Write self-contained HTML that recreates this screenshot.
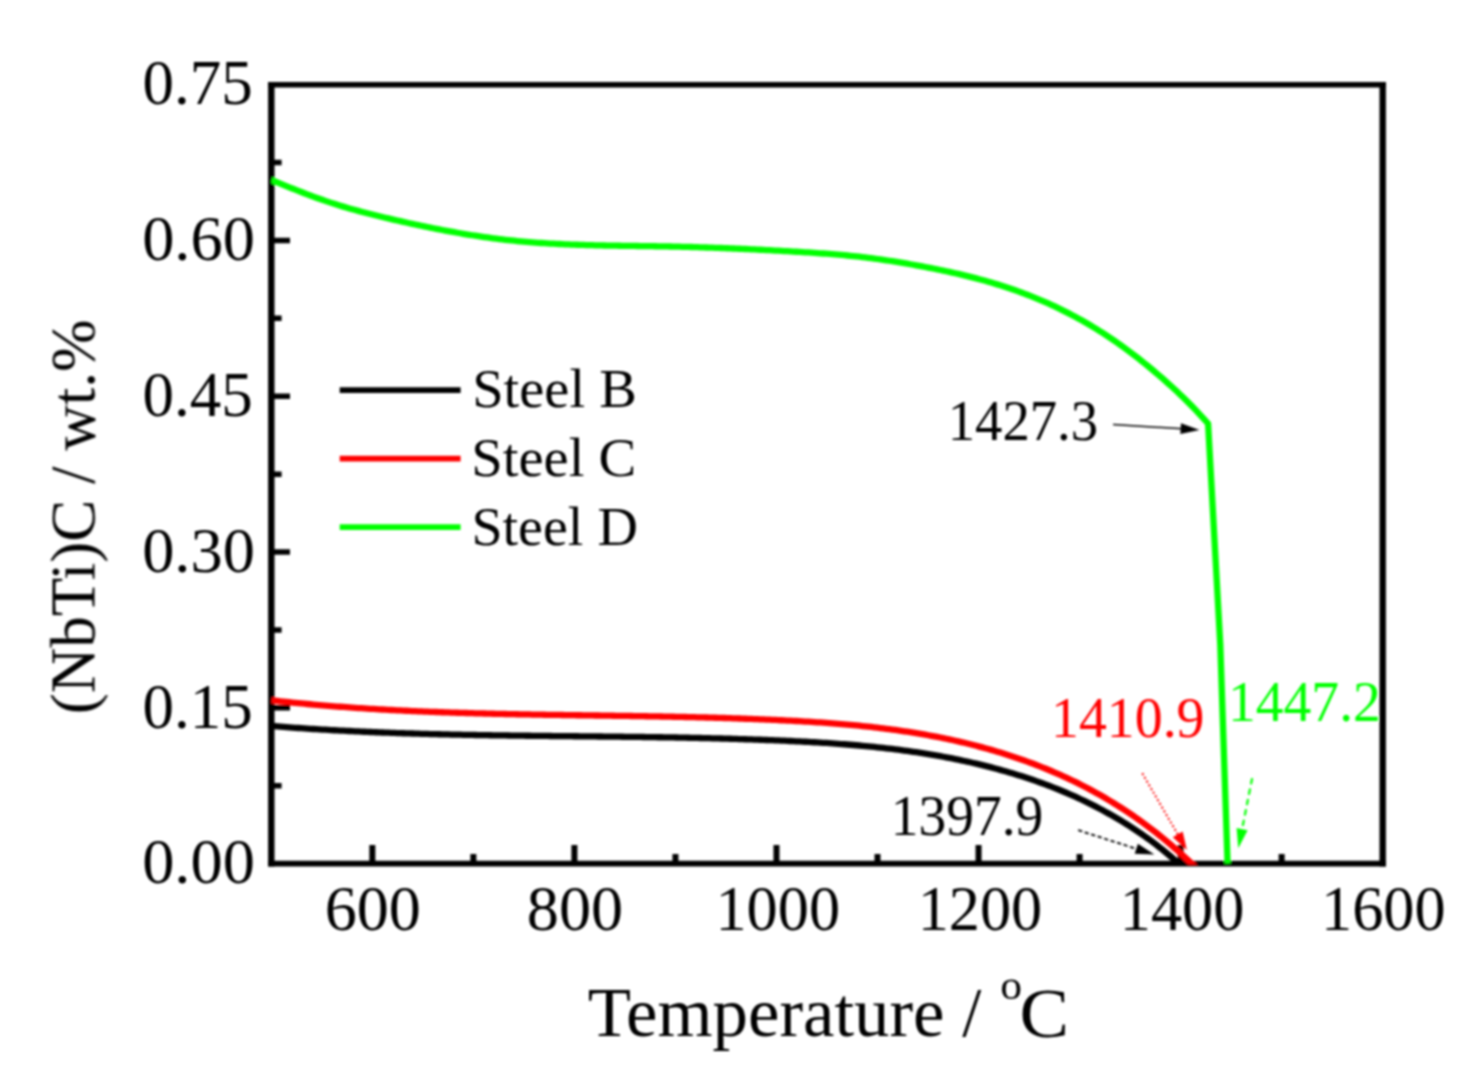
<!DOCTYPE html>
<html><head><meta charset="utf-8"><style>
html,body{margin:0;padding:0;background:#fff;width:1482px;height:1085px;overflow:hidden}
svg{display:block}
</style></head><body>
<svg width="1482" height="1085" viewBox="0 0 1482 1085">
<rect x="0" y="0" width="1482" height="1085" fill="#fff"/>
<defs><clipPath id="pc"><rect x="271.30" y="84.70" width="1111.40" height="780.10"/></clipPath>
<filter id="bl" x="0" y="0" width="1" height="1"><feGaussianBlur stdDeviation="0.80"/></filter>
</defs>
<g filter="url(#bl)">
<path d="M372.34,863.60 V844.90 M574.41,863.60 V844.90 M776.48,863.60 V844.90 M978.55,863.60 V844.90 M1180.63,863.60 V844.90 M473.37,863.60 V853.90 M675.45,863.60 V853.90 M877.52,863.60 V853.90 M1079.59,863.60 V853.90 M1281.66,863.60 V853.90" stroke="#000" stroke-width="6.00" fill="none"/>
<path d="M271.30,707.82 H290.00 M271.30,552.04 H290.00 M271.30,396.26 H290.00 M271.30,240.48 H290.00 M271.30,785.71 H281.60 M271.30,629.93 H281.60 M271.30,474.15 H281.60 M271.30,318.37 H281.60 M271.30,162.59 H281.60" stroke="#000" stroke-width="5.50" fill="none"/>
<path d="M268.10,84.70 H1385.90 M268.10,863.60 H1385.90" stroke="#000" stroke-width="5.60" fill="none"/>
<path d="M271.30,81.90 V866.40 M1382.70,81.90 V866.40" stroke="#000" stroke-width="6.40" fill="none"/>
<g clip-path="url(#pc)" fill="none" stroke-width="6.30" stroke-linejoin="round" stroke-linecap="butt">
<path d="M271.30,725.94 L274.30,726.18 L277.30,726.42 L280.30,726.66 L283.30,726.89 L286.30,727.12 L289.30,727.34 L292.30,727.56 L295.30,727.78 L298.30,727.99 L301.30,728.20 L304.30,728.40 L307.30,728.60 L310.30,728.80 L313.30,728.99 L316.30,729.18 L319.30,729.36 L322.30,729.54 L325.30,729.72 L328.30,729.90 L331.30,730.07 L334.30,730.23 L337.30,730.40 L340.30,730.56 L343.30,730.72 L346.30,730.87 L349.30,731.02 L352.30,731.17 L355.30,731.31 L358.30,731.46 L361.30,731.59 L364.30,731.73 L367.30,731.86 L370.30,731.99 L373.30,732.12 L376.30,732.24 L379.30,732.36 L382.30,732.48 L385.30,732.60 L388.30,732.71 L391.30,732.82 L394.30,732.93 L397.30,733.03 L400.30,733.13 L403.30,733.24 L406.30,733.33 L409.30,733.43 L412.30,733.52 L415.30,733.61 L418.30,733.70 L421.30,733.79 L424.30,733.87 L427.30,733.95 L430.30,734.03 L433.30,734.11 L436.30,734.19 L439.30,734.26 L442.30,734.33 L445.30,734.40 L448.30,734.47 L451.30,734.54 L454.30,734.60 L457.30,734.66 L460.30,734.72 L463.30,734.78 L466.30,734.84 L469.30,734.90 L472.30,734.95 L475.30,735.01 L478.30,735.06 L481.30,735.11 L484.30,735.16 L487.30,735.21 L490.30,735.26 L493.30,735.30 L496.30,735.35 L499.30,735.39 L502.30,735.43 L505.30,735.47 L508.30,735.51 L511.30,735.55 L514.30,735.59 L517.30,735.63 L520.30,735.67 L523.30,735.70 L526.30,735.74 L529.30,735.77 L532.30,735.81 L535.30,735.84 L538.30,735.88 L541.30,735.91 L544.30,735.94 L547.30,735.97 L550.30,736.00 L553.30,736.03 L556.30,736.06 L559.30,736.09 L562.30,736.12 L565.30,736.15 L568.30,736.18 L571.30,736.21 L574.30,736.24 L577.30,736.27 L580.30,736.30 L583.30,736.33 L586.30,736.36 L589.30,736.39 L592.30,736.42 L595.30,736.45 L598.30,736.48 L601.30,736.51 L604.30,736.55 L607.30,736.58 L610.30,736.61 L613.30,736.64 L616.30,736.68 L619.30,736.71 L622.30,736.75 L625.30,736.78 L628.30,736.82 L631.30,736.85 L634.30,736.89 L637.30,736.93 L640.30,736.97 L643.30,737.01 L646.30,737.05 L649.30,737.09 L652.30,737.14 L655.30,737.18 L658.30,737.23 L661.30,737.27 L664.30,737.32 L667.30,737.37 L670.30,737.42 L673.30,737.47 L676.30,737.52 L679.30,737.58 L682.30,737.64 L685.30,737.69 L688.30,737.75 L691.30,737.81 L694.30,737.88 L697.30,737.94 L700.30,738.01 L703.30,738.07 L706.30,738.14 L709.30,738.21 L712.30,738.29 L715.30,738.36 L718.30,738.44 L721.30,738.52 L724.30,738.60 L727.30,738.68 L730.30,738.77 L733.30,738.86 L736.30,738.95 L739.30,739.04 L742.30,739.13 L745.30,739.23 L748.30,739.33 L751.30,739.43 L754.30,739.53 L757.30,739.64 L760.30,739.75 L763.30,739.86 L766.30,739.98 L769.30,740.09 L772.30,740.22 L775.30,740.34 L778.30,740.46 L781.30,740.59 L784.30,740.72 L787.30,740.86 L790.30,741.00 L793.30,741.14 L796.30,741.28 L799.30,741.43 L802.30,741.59 L805.30,741.74 L808.30,741.90 L811.30,742.07 L814.30,742.24 L817.30,742.42 L820.30,742.60 L823.30,742.79 L826.30,742.98 L829.30,743.18 L832.30,743.38 L835.30,743.59 L838.30,743.81 L841.30,744.03 L844.30,744.26 L847.30,744.49 L850.30,744.74 L853.30,744.99 L856.30,745.24 L859.30,745.51 L862.30,745.78 L865.30,746.06 L868.30,746.35 L871.30,746.65 L874.30,746.95 L877.30,747.27 L880.30,747.59 L883.30,747.92 L886.30,748.26 L889.30,748.61 L892.30,748.97 L895.30,749.34 L898.30,749.72 L901.30,750.11 L904.30,750.51 L907.30,750.92 L910.30,751.34 L913.30,751.78 L916.30,752.22 L919.30,752.67 L922.30,753.14 L925.30,753.62 L928.30,754.11 L931.30,754.61 L934.30,755.12 L937.30,755.64 L940.30,756.18 L943.30,756.73 L946.30,757.30 L949.30,757.87 L952.30,758.46 L955.30,759.07 L958.30,759.68 L961.30,760.31 L964.30,760.96 L967.30,761.62 L970.30,762.29 L973.30,762.98 L976.30,763.68 L979.30,764.40 L982.30,765.13 L985.30,765.88 L988.30,766.64 L991.30,767.42 L994.30,768.21 L997.30,769.02 L1000.30,769.85 L1003.30,770.69 L1006.30,771.55 L1009.30,772.43 L1012.30,773.32 L1015.30,774.23 L1018.30,775.16 L1021.30,776.11 L1024.30,777.07 L1027.30,778.05 L1030.30,779.06 L1033.30,780.08 L1036.30,781.12 L1039.30,782.19 L1042.30,783.27 L1045.30,784.38 L1048.30,785.51 L1051.30,786.66 L1054.30,787.83 L1057.30,789.03 L1060.30,790.25 L1063.30,791.50 L1066.30,792.77 L1069.30,794.06 L1072.30,795.38 L1075.30,796.73 L1078.30,798.10 L1081.30,799.50 L1084.30,800.93 L1087.30,802.38 L1090.30,803.87 L1093.30,805.38 L1096.30,806.92 L1099.30,808.49 L1102.30,810.09 L1105.30,811.72 L1108.30,813.38 L1111.30,815.07 L1114.30,816.79 L1117.30,818.54 L1120.30,820.33 L1123.30,822.16 L1126.30,824.02 L1129.30,825.92 L1132.30,827.85 L1135.30,829.83 L1138.30,831.84 L1141.30,833.90 L1144.30,836.00 L1147.30,838.14 L1150.30,840.33 L1153.30,842.57 L1156.30,844.85 L1159.30,847.18 L1162.30,849.55 L1165.30,851.98 L1168.30,854.46 L1171.30,856.99 L1174.30,859.57 L1177.30,862.21 L1178.30,863.11 L1182.78,867.10" stroke="#000"/>
<path d="M271.30,700.29 L274.30,700.63 L277.30,700.96 L280.30,701.29 L283.30,701.61 L286.30,701.93 L289.30,702.24 L292.30,702.54 L295.30,702.84 L298.30,703.14 L301.30,703.43 L304.30,703.71 L307.30,703.99 L310.30,704.26 L313.30,704.53 L316.30,704.80 L319.30,705.06 L322.30,705.31 L325.30,705.57 L328.30,705.81 L331.30,706.05 L334.30,706.29 L337.30,706.52 L340.30,706.75 L343.30,706.97 L346.30,707.19 L349.30,707.41 L352.30,707.62 L355.30,707.83 L358.30,708.03 L361.30,708.23 L364.30,708.42 L367.30,708.61 L370.30,708.80 L373.30,708.98 L376.30,709.16 L379.30,709.34 L382.30,709.51 L385.30,709.68 L388.30,709.84 L391.30,710.00 L394.30,710.16 L397.30,710.31 L400.30,710.46 L403.30,710.61 L406.30,710.75 L409.30,710.90 L412.30,711.03 L415.30,711.17 L418.30,711.30 L421.30,711.43 L424.30,711.55 L427.30,711.67 L430.30,711.79 L433.30,711.91 L436.30,712.02 L439.30,712.14 L442.30,712.24 L445.30,712.35 L448.30,712.45 L451.30,712.56 L454.30,712.65 L457.30,712.75 L460.30,712.84 L463.30,712.93 L466.30,713.02 L469.30,713.11 L472.30,713.20 L475.30,713.28 L478.30,713.36 L481.30,713.44 L484.30,713.52 L487.30,713.59 L490.30,713.66 L493.30,713.73 L496.30,713.80 L499.30,713.87 L502.30,713.94 L505.30,714.00 L508.30,714.07 L511.30,714.13 L514.30,714.19 L517.30,714.25 L520.30,714.31 L523.30,714.36 L526.30,714.42 L529.30,714.47 L532.30,714.53 L535.30,714.58 L538.30,714.63 L541.30,714.68 L544.30,714.73 L547.30,714.78 L550.30,714.82 L553.30,714.87 L556.30,714.92 L559.30,714.96 L562.30,715.01 L565.30,715.05 L568.30,715.10 L571.30,715.14 L574.30,715.18 L577.30,715.23 L580.30,715.27 L583.30,715.31 L586.30,715.35 L589.30,715.39 L592.30,715.44 L595.30,715.48 L598.30,715.52 L601.30,715.56 L604.30,715.61 L607.30,715.65 L610.30,715.69 L613.30,715.73 L616.30,715.78 L619.30,715.82 L622.30,715.87 L625.30,715.91 L628.30,715.96 L631.30,716.00 L634.30,716.05 L637.30,716.10 L640.30,716.14 L643.30,716.19 L646.30,716.24 L649.30,716.29 L652.30,716.35 L655.30,716.40 L658.30,716.45 L661.30,716.51 L664.30,716.56 L667.30,716.62 L670.30,716.68 L673.30,716.74 L676.30,716.80 L679.30,716.87 L682.30,716.93 L685.30,717.00 L688.30,717.06 L691.30,717.13 L694.30,717.21 L697.30,717.28 L700.30,717.35 L703.30,717.43 L706.30,717.51 L709.30,717.59 L712.30,717.67 L715.30,717.76 L718.30,717.84 L721.30,717.93 L724.30,718.02 L727.30,718.12 L730.30,718.21 L733.30,718.31 L736.30,718.41 L739.30,718.51 L742.30,718.62 L745.30,718.73 L748.30,718.84 L751.30,718.95 L754.30,719.07 L757.30,719.19 L760.30,719.31 L763.30,719.43 L766.30,719.56 L769.30,719.69 L772.30,719.83 L775.30,719.96 L778.30,720.10 L781.30,720.25 L784.30,720.39 L787.30,720.54 L790.30,720.70 L793.30,720.86 L796.30,721.02 L799.30,721.18 L802.30,721.35 L805.30,721.53 L808.30,721.71 L811.30,721.90 L814.30,722.09 L817.30,722.28 L820.30,722.48 L823.30,722.69 L826.30,722.91 L829.30,723.13 L832.30,723.35 L835.30,723.59 L838.30,723.83 L841.30,724.07 L844.30,724.33 L847.30,724.59 L850.30,724.86 L853.30,725.14 L856.30,725.42 L859.30,725.72 L862.30,726.02 L865.30,726.33 L868.30,726.65 L871.30,726.98 L874.30,727.32 L877.30,727.67 L880.30,728.03 L883.30,728.39 L886.30,728.77 L889.30,729.16 L892.30,729.56 L895.30,729.97 L898.30,730.39 L901.30,730.82 L904.30,731.26 L907.30,731.72 L910.30,732.18 L913.30,732.66 L916.30,733.15 L919.30,733.65 L922.30,734.17 L925.30,734.69 L928.30,735.23 L931.30,735.79 L934.30,736.35 L937.30,736.93 L940.30,737.53 L943.30,738.13 L946.30,738.75 L949.30,739.39 L952.30,740.04 L955.30,740.71 L958.30,741.39 L961.30,742.08 L964.30,742.79 L967.30,743.52 L970.30,744.26 L973.30,745.02 L976.30,745.79 L979.30,746.58 L982.30,747.38 L985.30,748.21 L988.30,749.05 L991.30,749.90 L994.30,750.78 L997.30,751.67 L1000.30,752.58 L1003.30,753.51 L1006.30,754.45 L1009.30,755.41 L1012.30,756.40 L1015.30,757.40 L1018.30,758.42 L1021.30,759.46 L1024.30,760.52 L1027.30,761.60 L1030.30,762.70 L1033.30,763.82 L1036.30,764.96 L1039.30,766.13 L1042.30,767.31 L1045.30,768.52 L1048.30,769.76 L1051.30,771.01 L1054.30,772.29 L1057.30,773.60 L1060.30,774.93 L1063.30,776.28 L1066.30,777.66 L1069.30,779.06 L1072.30,780.50 L1075.30,781.95 L1078.30,783.44 L1081.30,784.95 L1084.30,786.49 L1087.30,788.06 L1090.30,789.65 L1093.30,791.28 L1096.30,792.93 L1099.30,794.61 L1102.30,796.33 L1105.30,798.07 L1108.30,799.85 L1111.30,801.65 L1114.30,803.49 L1117.30,805.36 L1120.30,807.26 L1123.30,809.20 L1126.30,811.16 L1129.30,813.17 L1132.30,815.21 L1135.30,817.28 L1138.30,819.39 L1141.30,821.54 L1144.30,823.73 L1147.30,825.95 L1150.30,828.21 L1153.30,830.51 L1156.30,832.85 L1159.30,835.23 L1162.30,837.65 L1165.30,840.12 L1168.30,842.62 L1171.30,845.17 L1174.30,847.76 L1177.30,850.40 L1180.30,853.08 L1183.30,855.80 L1186.30,858.57 L1189.30,861.39 L1191.20,863.20 L1195.55,867.33" stroke="#f00"/>
<path d="M271.30,179.99 L274.30,181.22 L277.30,182.44 L280.30,183.66 L283.30,184.88 L286.30,186.09 L289.30,187.30 L292.30,188.50 L295.30,189.69 L298.30,190.87 L301.30,192.04 L304.30,193.19 L307.30,194.34 L310.30,195.47 L313.30,196.58 L316.30,197.68 L319.30,198.76 L322.30,199.82 L325.30,200.86 L328.30,201.88 L331.30,202.87 L334.30,203.85 L337.30,204.80 L340.30,205.73 L343.30,206.63 L346.30,207.52 L349.30,208.40 L352.30,209.25 L355.30,210.08 L358.30,210.90 L361.30,211.71 L364.30,212.50 L367.30,213.28 L370.30,214.04 L373.30,214.79 L376.30,215.54 L379.30,216.27 L382.30,216.99 L385.30,217.71 L388.30,218.41 L391.30,219.12 L394.30,219.81 L397.30,220.50 L400.30,221.19 L403.30,221.86 L406.30,222.53 L409.30,223.20 L412.30,223.86 L415.30,224.51 L418.30,225.15 L421.30,225.78 L424.30,226.41 L427.30,227.03 L430.30,227.64 L433.30,228.24 L436.30,228.84 L439.30,229.43 L442.30,230.00 L445.30,230.57 L448.30,231.13 L451.30,231.68 L454.30,232.22 L457.30,232.75 L460.30,233.27 L463.30,233.78 L466.30,234.28 L469.30,234.77 L472.30,235.25 L475.30,235.72 L478.30,236.18 L481.30,236.62 L484.30,237.06 L487.30,237.48 L490.30,237.89 L493.30,238.29 L496.30,238.68 L499.30,239.05 L502.30,239.42 L505.30,239.77 L508.30,240.10 L511.30,240.43 L514.30,240.74 L517.30,241.03 L520.30,241.32 L523.30,241.59 L526.30,241.85 L529.30,242.10 L532.30,242.34 L535.30,242.57 L538.30,242.78 L541.30,242.99 L544.30,243.18 L547.30,243.37 L550.30,243.55 L553.30,243.71 L556.30,243.87 L559.30,244.02 L562.30,244.17 L565.30,244.30 L568.30,244.43 L571.30,244.55 L574.30,244.66 L577.30,244.77 L580.30,244.87 L583.30,244.96 L586.30,245.05 L589.30,245.13 L592.30,245.21 L595.30,245.29 L598.30,245.36 L601.30,245.42 L604.30,245.48 L607.30,245.54 L610.30,245.60 L613.30,245.65 L616.30,245.70 L619.30,245.74 L622.30,245.79 L625.30,245.83 L628.30,245.88 L631.30,245.92 L634.30,245.96 L637.30,246.00 L640.30,246.04 L643.30,246.08 L646.30,246.12 L649.30,246.17 L652.30,246.21 L655.30,246.26 L658.30,246.30 L661.30,246.35 L664.30,246.41 L667.30,246.46 L670.30,246.52 L673.30,246.58 L676.30,246.65 L679.30,246.72 L682.30,246.79 L685.30,246.86 L688.30,246.94 L691.30,247.02 L694.30,247.11 L697.30,247.20 L700.30,247.29 L703.30,247.38 L706.30,247.48 L709.30,247.58 L712.30,247.68 L715.30,247.79 L718.30,247.90 L721.30,248.01 L724.30,248.13 L727.30,248.25 L730.30,248.37 L733.30,248.50 L736.30,248.62 L739.30,248.75 L742.30,248.89 L745.30,249.02 L748.30,249.16 L751.30,249.30 L754.30,249.45 L757.30,249.59 L760.30,249.74 L763.30,249.90 L766.30,250.05 L769.30,250.21 L772.30,250.37 L775.30,250.53 L778.30,250.70 L781.30,250.86 L784.30,251.03 L787.30,251.21 L790.30,251.38 L793.30,251.56 L796.30,251.74 L799.30,251.92 L802.30,252.10 L805.30,252.29 L808.30,252.48 L811.30,252.67 L814.30,252.87 L817.30,253.07 L820.30,253.28 L823.30,253.49 L826.30,253.72 L829.30,253.94 L832.30,254.18 L835.30,254.42 L838.30,254.68 L841.30,254.94 L844.30,255.21 L847.30,255.49 L850.30,255.79 L853.30,256.09 L856.30,256.41 L859.30,256.74 L862.30,257.09 L865.30,257.44 L868.30,257.81 L871.30,258.20 L874.30,258.59 L877.30,259.00 L880.30,259.42 L883.30,259.86 L886.30,260.30 L889.30,260.75 L892.30,261.22 L895.30,261.70 L898.30,262.18 L901.30,262.68 L904.30,263.19 L907.30,263.71 L910.30,264.23 L913.30,264.77 L916.30,265.31 L919.30,265.86 L922.30,266.42 L925.30,266.99 L928.30,267.57 L931.30,268.15 L934.30,268.75 L937.30,269.35 L940.30,269.97 L943.30,270.60 L946.30,271.24 L949.30,271.89 L952.30,272.55 L955.30,273.23 L958.30,273.92 L961.30,274.63 L964.30,275.35 L967.30,276.08 L970.30,276.83 L973.30,277.60 L976.30,278.38 L979.30,279.19 L982.30,280.00 L985.30,280.84 L988.30,281.70 L991.30,282.57 L994.30,283.46 L997.30,284.38 L1000.30,285.31 L1003.30,286.27 L1006.30,287.25 L1009.30,288.24 L1012.30,289.27 L1015.30,290.31 L1018.30,291.38 L1021.30,292.47 L1024.30,293.59 L1027.30,294.73 L1030.30,295.90 L1033.30,297.09 L1036.30,298.31 L1039.30,299.56 L1042.30,300.83 L1045.30,302.14 L1048.30,303.47 L1051.30,304.83 L1054.30,306.22 L1057.30,307.63 L1060.30,309.08 L1063.30,310.56 L1066.30,312.07 L1069.30,313.61 L1072.30,315.18 L1075.30,316.78 L1078.30,318.42 L1081.30,320.09 L1084.30,321.79 L1087.30,323.53 L1090.30,325.29 L1093.30,327.10 L1096.30,328.93 L1099.30,330.81 L1102.30,332.71 L1105.30,334.66 L1108.30,336.64 L1111.30,338.65 L1114.30,340.70 L1117.30,342.78 L1120.30,344.90 L1123.30,347.06 L1126.30,349.25 L1129.30,351.47 L1132.30,353.73 L1135.30,356.02 L1138.30,358.35 L1141.30,360.72 L1144.30,363.11 L1147.30,365.55 L1150.30,368.01 L1153.30,370.51 L1156.30,373.05 L1159.30,375.62 L1162.30,378.22 L1165.30,380.86 L1168.30,383.54 L1171.30,386.26 L1174.30,389.02 L1177.30,391.82 L1180.30,394.67 L1183.30,397.57 L1186.30,400.52 L1189.30,403.52 L1192.30,406.57 L1195.30,409.68 L1198.30,412.85 L1201.30,416.08 L1204.30,419.37 L1207.30,422.73 L1208.10,423.64 L1220.30,645.00 L1227.60,863.60" stroke="#0f0"/>
</g>
<text id="y0.00" x="254.90" y="883.30" font-family="Liberation Serif" font-size="64.30" text-anchor="end" textLength="112.75" lengthAdjust="spacingAndGlyphs">0.00</text>
<text id="y0.15" x="252.70" y="727.50" font-family="Liberation Serif" font-size="64.30" text-anchor="end" textLength="110.22" lengthAdjust="spacingAndGlyphs">0.15</text>
<text id="y0.30" x="254.90" y="571.70" font-family="Liberation Serif" font-size="64.30" text-anchor="end" textLength="112.75" lengthAdjust="spacingAndGlyphs">0.30</text>
<text id="y0.45" x="252.70" y="415.90" font-family="Liberation Serif" font-size="64.30" text-anchor="end" textLength="110.22" lengthAdjust="spacingAndGlyphs">0.45</text>
<text id="y0.60" x="254.90" y="260.10" font-family="Liberation Serif" font-size="64.30" text-anchor="end" textLength="112.75" lengthAdjust="spacingAndGlyphs">0.60</text>
<text id="y0.75" x="252.70" y="104.30" font-family="Liberation Serif" font-size="64.30" text-anchor="end" textLength="110.22" lengthAdjust="spacingAndGlyphs">0.75</text>
<text id="x600" x="372.79" y="930.40" font-family="Liberation Serif" font-size="64.30" text-anchor="middle" textLength="96.25" lengthAdjust="spacingAndGlyphs">600</text>
<text id="x800" x="574.97" y="930.40" font-family="Liberation Serif" font-size="64.30" text-anchor="middle" textLength="96.25" lengthAdjust="spacingAndGlyphs">800</text>
<text id="x1000" x="777.75" y="929.80" font-family="Liberation Serif" font-size="64.30" text-anchor="middle" textLength="124.53" lengthAdjust="spacingAndGlyphs">1000</text>
<text id="x1200" x="979.94" y="929.80" font-family="Liberation Serif" font-size="64.30" text-anchor="middle" textLength="124.53" lengthAdjust="spacingAndGlyphs">1200</text>
<text id="x1400" x="1182.12" y="930.30" font-family="Liberation Serif" font-size="64.30" text-anchor="middle" textLength="124.53" lengthAdjust="spacingAndGlyphs">1400</text>
<text id="x1600" x="1383.30" y="929.80" font-family="Liberation Serif" font-size="64.30" text-anchor="middle" textLength="124.52" lengthAdjust="spacingAndGlyphs">1600</text>
<text id="temp" x="587.80" y="1036.30" font-family="Liberation Serif" font-size="70.00" textLength="356.72" lengthAdjust="spacingAndGlyphs">Temperature</text>
<text id="slash" x="962.20" y="1036.30" font-family="Liberation Serif" font-size="70.00" textLength="19.05" lengthAdjust="spacingAndGlyphs">/</text>
<text id="deg" x="1000.30" y="999.00" font-family="Liberation Serif" font-size="42.00" textLength="21.79" lengthAdjust="spacingAndGlyphs">o</text>
<text id="C" x="1019.60" y="1037.30" font-family="Liberation Serif" font-size="70.00" textLength="49.52" lengthAdjust="spacingAndGlyphs">C</text>
<text id="ytitle" transform="translate(94.50,714.20) rotate(-90)" font-family="Liberation Serif" font-size="63.00" textLength="394.58" lengthAdjust="spacingAndGlyphs">(NbTi)C / wt.%</text>
<text id="SteelB" x="472.20" y="407.30" font-family="Liberation Serif" font-size="55.60" textLength="164.66" lengthAdjust="spacingAndGlyphs">Steel B</text>
<text id="SteelC" x="471.20" y="476.40" font-family="Liberation Serif" font-size="55.60" textLength="165.07" lengthAdjust="spacingAndGlyphs">Steel C</text>
<text id="SteelD" x="471.40" y="544.80" font-family="Liberation Serif" font-size="55.60" textLength="166.47" lengthAdjust="spacingAndGlyphs">Steel D</text>
<text id="a1427" x="947.70" y="440.00" font-family="Liberation Serif" font-size="56.00" textLength="150.44" lengthAdjust="spacingAndGlyphs">1427.3</text>
<text id="a1410" x="1051.10" y="737.10" font-family="Liberation Serif" font-size="56.00" fill="#f00" textLength="153.38" lengthAdjust="spacingAndGlyphs">1410.9</text>
<text id="a1447" x="1227.90" y="721.30" font-family="Liberation Serif" font-size="56.00" fill="#0f0" textLength="152.95" lengthAdjust="spacingAndGlyphs">1447.2</text>
<text id="a1397" x="890.70" y="834.70" font-family="Liberation Serif" font-size="56.00" textLength="152.54" lengthAdjust="spacingAndGlyphs">1397.9</text>
<path d="M339.70,390.20 H460.60" stroke="#000" stroke-width="5.80"/>
<path d="M339.70,458.70 H460.60" stroke="#f00" stroke-width="5.80"/>
<path d="M339.70,527.20 H460.60" stroke="#0f0" stroke-width="5.80"/>
<path d="M1113.10,424.50 L1182.13,428.81" stroke="#000" stroke-width="1.50" stroke-linecap="butt" fill="none"/><path d="M1199.50,429.90 L1180.30,434.11 L1180.97,423.33 z" fill="#000"/>
<path d="M1078.20,830.20 L1137.73,849.26" stroke="#000" stroke-width="1.80" stroke-linecap="butt" stroke-dasharray="4.2,2.6" fill="none"/><path d="M1154.40,854.60 L1134.72,853.76 L1137.89,843.85 z" fill="#000"/>
<path d="M1142.30,773.30 L1178.46,835.57" stroke="#f00" stroke-width="2.00" stroke-linecap="butt" stroke-dasharray="2,2.3" fill="none"/><path d="M1186.90,850.10 L1172.78,837.14 L1182.64,831.41 z" fill="#f00"/>
<path d="M1252.00,779.00 L1241.79,830.64" stroke="#0f0" stroke-width="2.20" stroke-linecap="round" stroke-dasharray="4.5,6.1" fill="none"/><path d="M1238.30,848.30 L1236.59,828.08 L1247.58,830.26 z" fill="#0f0"/>
</g>
</svg>
</body></html>
